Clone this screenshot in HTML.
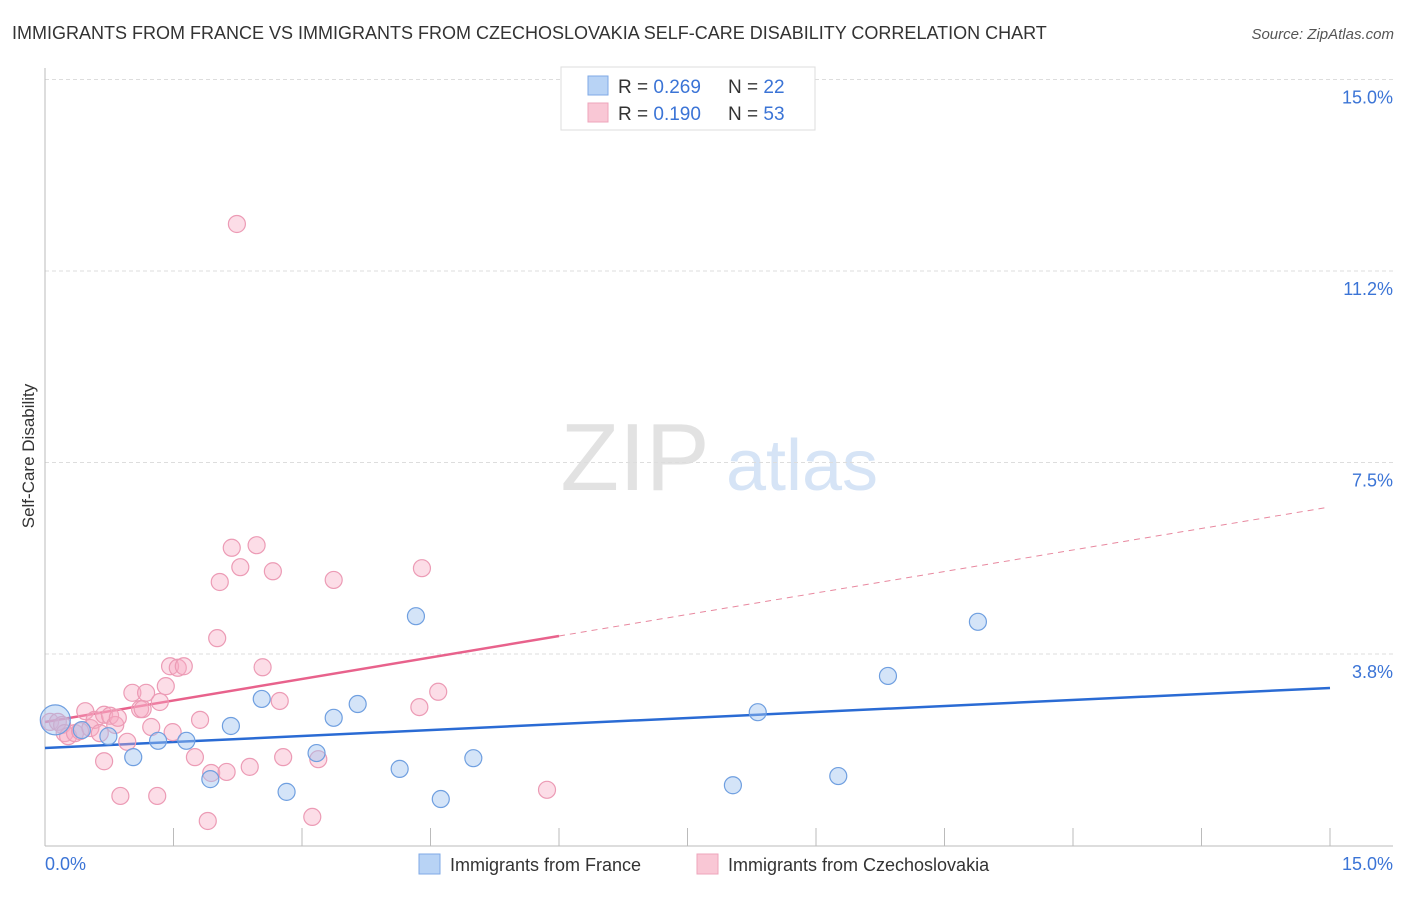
<!DOCTYPE html>
<html><head><meta charset="utf-8"><style>
body{margin:0;background:#fff;font-family:"Liberation Sans",sans-serif;}
svg text{font-family:"Liberation Sans",sans-serif;}
</style></head><body>
<svg id="chart" width="1406" height="892" xmlns="http://www.w3.org/2000/svg">
<text x="12" y="39" font-size="18" fill="#333">IMMIGRANTS FROM FRANCE VS IMMIGRANTS FROM CZECHOSLOVAKIA SELF-CARE DISABILITY CORRELATION CHART</text>
<text x="1394" y="39" font-size="15" fill="#555" text-anchor="end" font-style="italic">Source: ZipAtlas.com</text>
<g>
<text x="635" y="490" font-size="96" fill="#e2e2e2" text-anchor="middle" font-family="Liberation Serif, serif">ZIP</text>
<text x="802" y="490" font-size="72" fill="#d6e4f6" text-anchor="middle">atlas</text>
</g>
<g id="grid"></g>
<line x1="45" y1="68" x2="45" y2="846" stroke="#bbb"/>
<line x1="45" y1="846" x2="1393" y2="846" stroke="#bbb"/>
<g id="xticks"></g>
<g id="ylabels"></g>
<text transform="translate(34,456) rotate(-90)" font-size="17" fill="#333" text-anchor="middle">Self-Care Disability</text>
<text x="45" y="870" font-size="18" fill="#3b74d6">0.0%</text>
<text x="1393" y="870" font-size="18" fill="#3b74d6" text-anchor="end">15.0%</text>
<g id="lines"></g>
<g id="points"></g>
<g>
<rect x="561" y="67" width="254" height="63" fill="#fff" stroke="#ddd"/>
<rect x="588" y="76" width="20" height="19" fill="#b8d3f5" stroke="#7fa9e6"/>
<rect x="588" y="103" width="20" height="19" fill="#f9c7d5" stroke="#eea4bb"/>
<text x="618" y="93" font-size="19" fill="#333">R = <tspan fill="#3b74d6">0.269</tspan><tspan x="728">N = </tspan><tspan fill="#3b74d6">22</tspan></text>
<text x="618" y="120" font-size="19" fill="#333">R = <tspan fill="#3b74d6"> 0.190</tspan><tspan x="728">N = </tspan><tspan fill="#3b74d6">53</tspan></text>
</g>
<g>
<rect x="419" y="854" width="21" height="20" fill="#b8d3f5" stroke="#7fa9e6"/>
<text x="450" y="871" font-size="18" fill="#333">Immigrants from France</text>
<rect x="697" y="854" width="21" height="20" fill="#f9c7d5" stroke="#eea4bb"/>
<text x="728" y="871" font-size="18" fill="#333">Immigrants from Czechoslovakia</text>
</g>
</svg>
<script>
const yTicks=[3.75,7.5,11.25,15];
const yTickLabels=["3.8%","7.5%","11.2%","15.0%"];
const xTicks=[0,1.5,3,4.5,6,7.5,9,10.5,12,13.5,15];
const franceX=[0.12,0.43,0.74,1.03,1.32,1.65,1.93,2.17,2.53,2.82,3.17,3.37,3.65,4.14,4.33,4.62,5.00,8.03,8.32,9.26,9.84,10.89];
const franceY=[2.46,2.26,2.14,1.73,2.05,2.05,1.30,2.34,2.87,1.05,1.81,2.50,2.77,1.50,4.49,0.91,1.71,1.18,2.61,1.36,3.32,4.38];
const czechX=[0.06,0.15,0.20,0.23,0.27,0.35,0.41,0.47,0.53,0.58,0.64,0.69,0.69,0.76,0.82,0.88,0.96,1.02,1.11,1.14,1.18,1.24,1.31,1.34,1.41,1.46,1.49,1.55,1.62,1.75,1.81,1.90,1.94,2.01,2.04,2.12,2.18,2.24,2.28,2.39,2.47,2.54,2.66,2.74,2.78,3.12,3.19,3.37,4.37,4.40,4.59,5.86,0.85];
const czechY=[2.42,2.42,2.36,2.20,2.14,2.20,2.24,2.63,2.30,2.46,2.20,2.56,1.65,2.54,2.36,0.97,2.03,2.99,2.67,2.67,2.99,2.32,0.97,2.81,3.12,3.51,2.22,3.48,3.51,1.73,2.46,0.48,1.42,4.06,5.16,1.44,5.83,12.17,5.45,1.54,5.88,3.49,5.37,2.83,1.73,0.56,1.69,5.20,2.71,5.43,3.01,1.09,2.50];
const franceTrend=[1.909,3.084];
const czechTrend=[2.418,0.2807];
const NS="http://www.w3.org/2000/svg";
const X=v=>45+v/15*1285;
const Y=v=>845.5-v*51.07;
function mk(tag,attrs,parent){const e=document.createElementNS(NS,tag);for(const k in attrs)e.setAttribute(k,attrs[k]);document.getElementById(parent).appendChild(e);return e;}
yTicks.forEach((t,i)=>{
 const g=mk('line',{x1:45,x2:1393,y1:Y(t),y2:Y(t),stroke:'#ddd','stroke-dasharray':'4,3'},'grid');
 
 
 const l=mk('text',{x:1393,y:Y(t)+24,'font-size':18,fill:'#3b74d6','text-anchor':'end'},'ylabels');
 l.textContent=yTickLabels[i];
 
 
});
xTicks.forEach(t=>{
 const e=mk('line',{x1:X(t),x2:X(t),y1:828,y2:846,stroke:'#bbb'},'xticks');
 
 
});
const fl=mk('line',{x1:X(0),y1:Y(franceTrend[0]),x2:X(15),y2:Y(franceTrend[1]),stroke:'#2a6bd4','stroke-width':2.5},'lines');


const cs=mk('line',{x1:X(0),y1:Y(czechTrend[0]),x2:X(6),y2:Y(czechTrend[0]+6*czechTrend[1]),stroke:'#e8628c','stroke-width':2.5},'lines');


const cd=mk('line',{x1:X(6),y1:Y(czechTrend[0]+6*czechTrend[1]),x2:X(14.95),y2:Y(czechTrend[0]+14.95*czechTrend[1]),stroke:'#e8889f','stroke-width':1,'stroke-dasharray':'6,5'},'lines');


czechX.forEach((x,i)=>{
 const c=mk('circle',{cx:X(x),cy:Y(czechY[i]),r:8.5,fill:'rgba(247,170,195,0.4)',stroke:'#ec9bb5','stroke-width':1.2},'points');
 
 
});
franceX.forEach((x,i)=>{
 const c=mk('circle',{cx:X(x),cy:Y(franceY[i]),r:i===0?15:8.5,fill:'rgba(160,195,240,0.45)',stroke:'#6f9fe0','stroke-width':1.2},'points');
 
 
});
</script>
</body></html>
